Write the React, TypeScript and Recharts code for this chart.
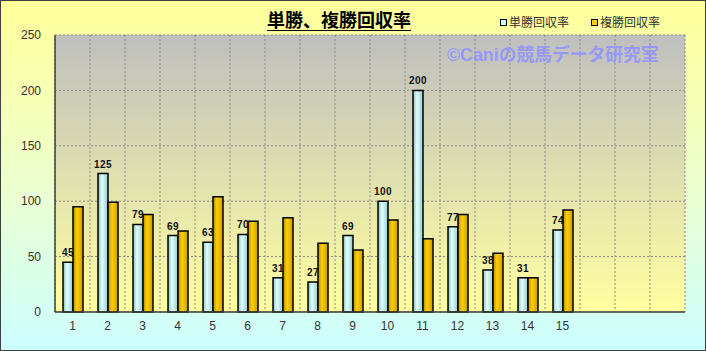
import { BarChart, Bar, XAxis, YAxis, CartesianGrid, LabelList } from "recharts"

const categories = ["1", "2", "3", "4", "5", "6", "7", "8", "9", "10", "11", "12", "13", "14", "15"]
const winRates = [45, 125, 79, 69, 63, 70, 31, 27, 69, 100, 200, 77, 38, 31, 74]
const placeRates = [95, 99, 88, 73, 104, 82, 85, 62, 56, 83, 66, 88, 53, 31, 92]
const yTicks = [0, 50, 100, 150, 200, 250]
const emptySlots = 3

const WIN_LABEL = "単勝回収率"
const PLACE_LABEL = "複勝回収率"

const data = [
  ...categories.map((name, i) => ({ name, win: winRates[i], place: placeRates[i] })),
  ...Array.from({ length: emptySlots }, () => ({ name: "", win: null, place: null })),
]

const tickStyle = { fill: "#333", fontSize: 12, fontFamily: "'Liberation Sans', Arial, sans-serif" }

function Gradients() {
  return (
    <svg width={0} height={0} style={{ position: "absolute" }}>
      <defs>
        <linearGradient id="plotGrad" x1="0" y1="0" x2="0" y2="1">
          <stop offset="0%" stopColor="#bfbfbf" />
          <stop offset="100%" stopColor="#ffffa0" />
        </linearGradient>
        <linearGradient id="winGrad" x1="0" y1="0" x2="1" y2="0">
          <stop offset="0%" stopColor="#7fbcbc" />
          <stop offset="40%" stopColor="#e4ffff" />
          <stop offset="100%" stopColor="#8fcaca" />
        </linearGradient>
        <linearGradient id="placeGrad" x1="0" y1="0" x2="1" y2="0">
          <stop offset="0%" stopColor="#b08800" />
          <stop offset="40%" stopColor="#ffd000" />
          <stop offset="100%" stopColor="#c89c00" />
        </linearGradient>
      </defs>
    </svg>
  )
}

function LegendItem({ label, fill }: { label: string; fill: string }) {
  return (
    <span style={{ display: "inline-flex", alignItems: "center", marginRight: 22 }}>
      <span
        style={{
          width: 5,
          height: 5,
          border: "1px solid #000",
          background: fill,
          marginRight: 2,
        }}
      />
      <span>{label}</span>
    </span>
  )
}

export default function App() {
  return (
    <div
      style={{
        position: "absolute",
        left: 0,
        top: 0,
        width: 706,
        height: 351,
        background: "linear-gradient(to bottom, #ffff99 0%, #eeffcc 50%, #ccffff 100%)",
        fontFamily: "'Liberation Sans', 'Noto Sans CJK JP', sans-serif",
      }}
    >
      <Gradients />
      <div
        style={{
          position: "absolute",
          left: 447,
          top: 45,
          fontFamily: "'Liberation Sans', 'Noto Sans CJK JP', sans-serif",
          fontSize: 17.8,
          fontWeight: "bold",
          lineHeight: "20px",
          color: "#9494ff",
          whiteSpace: "nowrap",
          zIndex: 2,
          opacity: 0.9,
        }}
      >
        ©Caniの競馬データ研究室
      </div>
      <BarChart
        width={706}
        height={351}
        data={data}
        margin={{ top: 35, right: 21, bottom: 9, left: 0 }}
        barGap={0}
        barSize={10}
      >
        <CartesianGrid
          fill="url(#plotGrad)"
          stroke="#858585"
          strokeDasharray="2 2"
          verticalCoordinatesGenerator={({ offset }: any) => {
            const step = offset.width / data.length
            return Array.from({ length: data.length + 1 }, (_, i) => offset.left + i * step)
          }}
        />
        <XAxis
          dataKey="name"
          height={30}
          interval={0}
          tickLine={false}
          tickSize={0}
          tickMargin={9}
          axisLine={{ stroke: "#404040", strokeWidth: 1.5 }}
          tick={tickStyle}
        />
        <XAxis
          xAxisId="top"
          dataKey="name"
          orientation="top"
          height={0}
          tick={false}
          tickLine={false}
          axisLine={{ stroke: "#808080", strokeWidth: 1.5 }}
        />
        <YAxis
          width={55}
          domain={[0, 250]}
          ticks={yTicks}
          tickLine={false}
          tickSize={0}
          tickMargin={14}
          axisLine={{ stroke: "#404040", strokeWidth: 1.5 }}
          tick={tickStyle}
        />
        <YAxis
          yAxisId="right"
          orientation="right"
          width={0}
          domain={[0, 250]}
          tick={false}
          tickLine={false}
          axisLine={{ stroke: "#808080", strokeWidth: 1.5 }}
        />
        <Bar dataKey="win" name={WIN_LABEL} fill="url(#winGrad)" stroke="#000" strokeWidth={1.5} isAnimationActive={false}>
          <LabelList
            dataKey="win"
            position="top"
            offset={6}
            style={{ fontSize: 10, fontWeight: "bold", fill: "#111", letterSpacing: 0.5 }}
          />
        </Bar>
        <Bar dataKey="place" name={PLACE_LABEL} fill="url(#placeGrad)" stroke="#000" strokeWidth={1.5} isAnimationActive={false} />
      </BarChart>

      <div
        style={{
          position: "absolute",
          left: 0,
          top: 8,
          width: 678,
          textAlign: "center",
          fontFamily: "'Noto Sans CJK JP', sans-serif",
          fontSize: 18,
          fontWeight: "bold",
          lineHeight: "22px",
          color: "#000",
        }}
      >
        <span style={{ textDecoration: "underline", textUnderlineOffset: 3 }}>単勝、複勝回収率</span>
      </div>

      <div
        style={{
          position: "absolute",
          left: 500,
          top: 14,
          fontFamily: "'Noto Sans CJK JP', sans-serif",
          fontSize: 12,
          lineHeight: "16px",
          color: "#333",
          display: "flex",
          whiteSpace: "nowrap",
        }}
      >
        <LegendItem label={WIN_LABEL} fill="#c8ffff" />
        <LegendItem label={PLACE_LABEL} fill="#ffcc00" />
      </div>

      <div
        style={{
          position: "absolute",
          inset: 0,
          border: "1px solid #404040",
          pointerEvents: "none",
        }}
      />
    </div>
  )
}
